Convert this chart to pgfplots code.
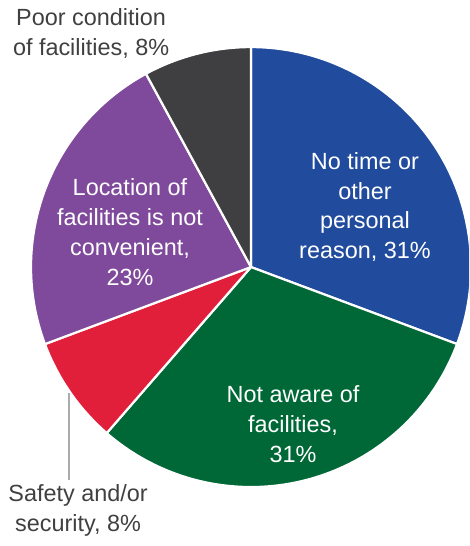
\documentclass[border=0pt]{standalone}
\usepackage{pgfplots}
\pgfplotsset{compat=1.18}
\usepackage{fontspec}
\setmainfont{Liberation Sans}
\definecolor{cblue}{HTML}{214C9E}
\definecolor{cgreen}{HTML}{006837}
\definecolor{cred}{HTML}{E11F3B}
\definecolor{cpurple}{HTML}{7F4A9B}
\definecolor{cgray}{HTML}{3F3F41}
\definecolor{ctext}{HTML}{404040}
% slice values (percent), clockwise from 12 o'clock
\def\vA{31}% No time or other personal reason
\def\vB{31}% Not aware of facilities
\def\vC{8}%  Safety and/or security
\def\vD{23}% Location of facilities is not convenient
\def\vE{8}%  Poor condition of facilities
\pgfmathsetmacro\tot{\vA+\vB+\vC+\vD+\vE}
\pgfmathsetmacro\aA{90}
\pgfmathsetmacro\aB{\aA-\vA/\tot*360}
\pgfmathsetmacro\aC{\aB-\vB/\tot*360}
\pgfmathsetmacro\aD{\aC-\vC/\tot*360}
\pgfmathsetmacro\aE{\aD-\vD/\tot*360}
\pgfmathsetmacro\aF{\aE-\vE/\tot*360}
\begin{document}
\begin{tikzpicture}
\begin{axis}[
  x=220bp, y=220bp,
  xmin=-1.141, xmax=0.991, ymin=-1.268, ymax=1.214,
  hide axis, clip=true,
  scale only axis,
  every axis plot/.append style={draw=white, line width=2.2bp, line join=round},
]
\coordinate (SW) at (rel axis cs:0,0);
\coordinate (NE) at (rel axis cs:1,1);
\addplot[fill=cblue, domain=\aA:\aB, samples=90] ({cos(x)},{sin(x)}) -- (axis cs:0,0) -- cycle;
\addplot[fill=cgreen, domain=\aB:\aC, samples=90] ({cos(x)},{sin(x)}) -- (axis cs:0,0) -- cycle;
\addplot[fill=cred, domain=\aC:\aD, samples=40] ({cos(x)},{sin(x)}) -- (axis cs:0,0) -- cycle;
\addplot[fill=cpurple, domain=\aD:\aE, samples=70] ({cos(x)},{sin(x)}) -- (axis cs:0,0) -- cycle;
\addplot[fill=cgray, domain=\aE:\aF, samples=40] ({cos(x)},{sin(x)}) -- (axis cs:0,0) -- cycle;
\draw[color=black!33, line width=1.3bp] (axis cs:-0.827,-0.573) -- (axis cs:-0.827,-0.968);
\tikzset{lab/.style={align=center, font=\fontsize{23.5}{30}\selectfont, inner sep=0pt}}
\node[lab, text=white] at (axis cs:0.518,0.273) {No time or\\other\\personal\\reason, 31\%};
\node[lab, text=white] at (axis cs:0.191,-0.714) {Not aware of\\facilities,\\31\%};
\node[lab, text=white] at (axis cs:-0.55,0.159) {Location of\\facilities is not\\convenient,\\23\%};
\node[lab, text=ctext] at (axis cs:-0.727,1.062) {Poor condition\\of facilities, 8\%};
\node[lab, text=ctext] at (axis cs:-0.786,-1.105) {Safety and/or\\security, 8\%};
\end{axis}
\pgfresetboundingbox
\path[use as bounding box] (SW) rectangle (NE);
\end{tikzpicture}
\end{document}
